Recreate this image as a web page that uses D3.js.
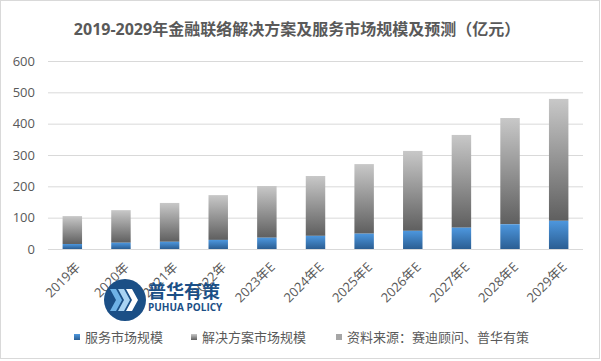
<!DOCTYPE html>
<html>
<head>
<meta charset="utf-8">
<script src="https://cdn.jsdelivr.net/npm/d3@7/dist/d3.min.js"></script>
<style>
html,body{margin:0;padding:0;background:#fff;}
svg{display:block;}
text{font-family:"Open Sans","Noto Sans CJK SC",sans-serif;}
</style>
</head>
<body>
<script>
const categories = ["2019年","2020年","2021年","2022年","2023年E","2024年E","2025年E","2026年E","2027年E","2028年E","2029年E"];
const serviceValues = [16, 20, 23, 29, 36, 42, 49, 58, 68, 79, 90];
const solutionValues = [89, 104, 124, 143, 165, 191, 222, 255, 296, 339, 389];
const yTicks = [0, 100, 200, 300, 400, 500, 600];
const legendLabels = ["服务市场规模", "解决方案市场规模", "资料来源：赛迪顾问、普华有策"];
const titleText = "2019-2029年金融联络解决方案及服务市场规模及预测（亿元）";

const W = 601, H = 361;
const svg = d3.select("body").append("svg").attr("width", W).attr("height", H);

// border
svg.append("rect").attr("x", 0.5).attr("y", 0.5).attr("width", W - 2).attr("height", H - 3)
  .attr("fill", "#fff").attr("stroke", "#d9d9d9");

const defs = svg.append("defs");
const gGray = defs.append("linearGradient").attr("id", "gGray").attr("x1", 0).attr("y1", 0).attr("x2", 0).attr("y2", 1);
gGray.append("stop").attr("offset", "0%").attr("stop-color", "#c8c8c8");
gGray.append("stop").attr("offset", "100%").attr("stop-color", "#5f5f5f");
const gBlue = defs.append("linearGradient").attr("id", "gBlue").attr("x1", 0).attr("y1", 0).attr("x2", 0).attr("y2", 1);
gBlue.append("stop").attr("offset", "0%").attr("stop-color", "#4d97de");
gBlue.append("stop").attr("offset", "100%").attr("stop-color", "#2b5e93");

const x = d3.scaleBand().domain(categories).range([48, 583]).paddingInner(0.6).paddingOuter(0.3);
const y = d3.scaleLinear().domain([0, 600]).range([249, 61]);

// title
svg.append("text").attr("x", 297).attr("y", 35).attr("text-anchor", "middle")
  .attr("font-size", 16).attr("font-weight", "bold").attr("fill", "#595959").text(titleText);

// gridlines + y labels
const yAxis = d3.axisLeft(y).tickValues(yTicks).tickSize(-(583 - 48)).tickPadding(13);
const gy = svg.append("g").attr("transform", "translate(48,0)").call(yAxis);
gy.select(".domain").remove();
gy.selectAll(".tick line").attr("stroke", "#d9d9d9");
gy.selectAll(".tick text").attr("font-size", 13).attr("fill", "#595959")
  .attr("font-family", "'Open Sans','Noto Sans CJK SC',sans-serif");

// bars
const data = categories.map((c, i) => ({c, s: serviceValues[i], t: solutionValues[i]}));
svg.append("g").selectAll("rect").data(data).join("rect")
  .attr("x", d => x(d.c)).attr("width", x.bandwidth())
  .attr("y", d => y(d.s + d.t)).attr("height", d => y(d.s) - y(d.s + d.t))
  .attr("fill", "url(#gGray)");
svg.append("g").selectAll("rect").data(data).join("rect")
  .attr("x", d => x(d.c)).attr("width", x.bandwidth())
  .attr("y", d => y(d.s)).attr("height", d => y(0) - y(d.s))
  .attr("fill", "url(#gBlue)");

// x labels
const xAxis = d3.axisBottom(x).tickSize(0).tickPadding(0);
const gx = svg.append("g").attr("transform", `translate(0,${y(0)})`).call(xAxis);
gx.select(".domain").remove();
gx.selectAll(".tick text")
  .attr("font-size", 13).attr("fill", "#595959").attr("text-anchor", "end")
  .attr("font-family", "'Open Sans','Noto Sans CJK SC',sans-serif")
  .attr("dy", null)
  .attr("transform", "translate(9,19) rotate(-45)");

// watermark logo
const logo = svg.append("g");
logo.append("circle").attr("cx", 125).attr("cy", 300).attr("r", 21).attr("fill", "#1b4f86");
[0, 1, 2].forEach(i => {
  const ox = 110 + i * 8, oy = 300;
  logo.append("path")
    .attr("d", `M${ox},${oy - 11} L${ox + 6},${oy - 11} L${ox + 12},${oy} L${ox + 6},${oy + 11} L${ox},${oy + 11} L${ox + 6},${oy} Z`)
    .attr("fill", i === 2 ? "#ffffff" : (i === 1 ? "#a9d3f2" : "#6fb2e6"));
});
logo.append("text").attr("x", 148).attr("y", 298).attr("font-size", 18).attr("font-weight", "bold")
  .attr("fill", "#1b4f86").attr("font-family", "'Noto Sans CJK SC',sans-serif").text("普华有策");
logo.append("text").attr("x", 148).attr("y", 311).attr("font-size", 10).attr("font-weight", "bold")
  .attr("fill", "#1b4f86").attr("font-family", "'Open Sans',sans-serif").text("PUHUA POLICY");

// legend
const legendColors = ["url(#gBlue)", "url(#gGray)", "#a6a6a6"];
const legendX = [74, 191, 336];
const lg = svg.append("g");
legendLabels.forEach((t, i) => {
  lg.append("rect").attr("x", legendX[i]).attr("y", 334).attr("width", 6).attr("height", 6).attr("fill", legendColors[i]);
  lg.append("text").attr("x", legendX[i] + 11).attr("y", 342).attr("font-size", 13).attr("fill", "#595959").text(t);
});
</script>
</body>
</html>
